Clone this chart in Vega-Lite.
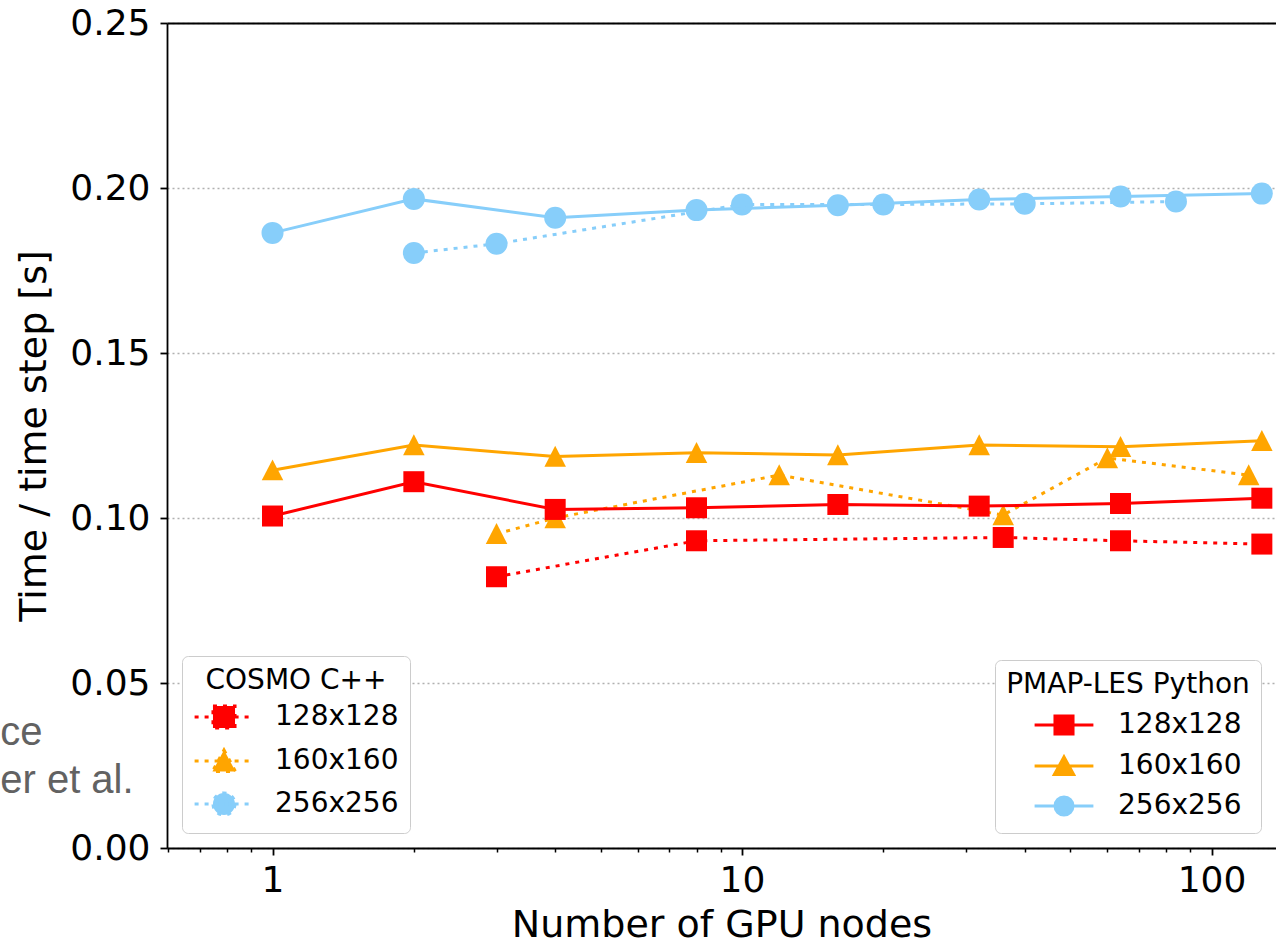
{
  "$schema": "https://vega.github.io/schema/vega-lite/v6.json",
  "width": 1109,
  "height": 825,
  "autosize": {"type": "none"},
  "padding": {"left": 167, "top": 23, "right": 0, "bottom": 96},
  "background": "white",
  "config": {
    "view": {"stroke": null},
    "font": "DejaVu Sans",
    "axis": {
      "labelFont": "DejaVu Sans",
      "titleFont": "DejaVu Sans",
      "labelColor": "black",
      "titleColor": "black",
      "domainColor": "black",
      "tickColor": "black",
      "titleFontWeight": "normal"
    },
    "legend": {
      "labelFont": "DejaVu Sans",
      "titleFont": "DejaVu Sans",
      "labelColor": "black",
      "titleColor": "black",
      "titleFontWeight": "normal",
      "titleLimit": 0,
      "labelLimit": 0
    }
  },
  "datasets": {
    "runs": [
      {"code": "COSMO C++", "size": "128x128", "nodes": 3, "time": 0.0822},
      {"code": "COSMO C++", "size": "128x128", "nodes": 8, "time": 0.0931},
      {"code": "COSMO C++", "size": "128x128", "nodes": 36, "time": 0.0941},
      {"code": "COSMO C++", "size": "128x128", "nodes": 64, "time": 0.0931},
      {"code": "COSMO C++", "size": "128x128", "nodes": 128, "time": 0.0921},
      {"code": "COSMO C++", "size": "160x160", "nodes": 3, "time": 0.0952},
      {"code": "COSMO C++", "size": "160x160", "nodes": 4, "time": 0.1000},
      {"code": "COSMO C++", "size": "160x160", "nodes": 12, "time": 0.1130},
      {"code": "COSMO C++", "size": "160x160", "nodes": 36, "time": 0.1009},
      {"code": "COSMO C++", "size": "160x160", "nodes": 60, "time": 0.1182},
      {"code": "COSMO C++", "size": "160x160", "nodes": 120, "time": 0.1130},
      {"code": "COSMO C++", "size": "256x256", "nodes": 2, "time": 0.1803},
      {"code": "COSMO C++", "size": "256x256", "nodes": 3, "time": 0.1831},
      {"code": "COSMO C++", "size": "256x256", "nodes": 10, "time": 0.1950},
      {"code": "COSMO C++", "size": "256x256", "nodes": 20, "time": 0.1950},
      {"code": "COSMO C++", "size": "256x256", "nodes": 40, "time": 0.1952},
      {"code": "COSMO C++", "size": "256x256", "nodes": 84, "time": 0.1959},
      {"code": "PMAP-LES Python", "size": "128x128", "nodes": 1, "time": 0.1006},
      {"code": "PMAP-LES Python", "size": "128x128", "nodes": 2, "time": 0.1110},
      {"code": "PMAP-LES Python", "size": "128x128", "nodes": 4, "time": 0.1026},
      {"code": "PMAP-LES Python", "size": "128x128", "nodes": 8, "time": 0.1031},
      {"code": "PMAP-LES Python", "size": "128x128", "nodes": 16, "time": 0.1041},
      {"code": "PMAP-LES Python", "size": "128x128", "nodes": 32, "time": 0.1036},
      {"code": "PMAP-LES Python", "size": "128x128", "nodes": 64, "time": 0.1044},
      {"code": "PMAP-LES Python", "size": "128x128", "nodes": 128, "time": 0.1060},
      {"code": "PMAP-LES Python", "size": "160x160", "nodes": 1, "time": 0.1145},
      {"code": "PMAP-LES Python", "size": "160x160", "nodes": 2, "time": 0.1221},
      {"code": "PMAP-LES Python", "size": "160x160", "nodes": 4, "time": 0.1186},
      {"code": "PMAP-LES Python", "size": "160x160", "nodes": 8, "time": 0.1198},
      {"code": "PMAP-LES Python", "size": "160x160", "nodes": 16, "time": 0.1191},
      {"code": "PMAP-LES Python", "size": "160x160", "nodes": 32, "time": 0.1221},
      {"code": "PMAP-LES Python", "size": "160x160", "nodes": 64, "time": 0.1216},
      {"code": "PMAP-LES Python", "size": "160x160", "nodes": 128, "time": 0.1234},
      {"code": "PMAP-LES Python", "size": "256x256", "nodes": 1, "time": 0.1864},
      {"code": "PMAP-LES Python", "size": "256x256", "nodes": 2, "time": 0.1967},
      {"code": "PMAP-LES Python", "size": "256x256", "nodes": 4, "time": 0.1910},
      {"code": "PMAP-LES Python", "size": "256x256", "nodes": 8, "time": 0.1933},
      {"code": "PMAP-LES Python", "size": "256x256", "nodes": 16, "time": 0.1948},
      {"code": "PMAP-LES Python", "size": "256x256", "nodes": 32, "time": 0.1965},
      {"code": "PMAP-LES Python", "size": "256x256", "nodes": 64, "time": 0.1974},
      {"code": "PMAP-LES Python", "size": "256x256", "nodes": 128, "time": 0.1983}
    ],
    "notes": [
      {"label": "ce", "nodes": 0.3236, "time": 0.0312},
      {"label": "er et al.", "nodes": 0.506, "time": 0.0167}
    ]
  },
  "resolve": {
    "scale": {"color": "independent", "fill": "independent", "stroke": "independent", "shape": "independent", "size": "independent"},
    "axis": {"x": "independent", "y": "independent"}
  },
  "layer": [
    {
      "data": {"name": "runs"},
      "transform": [{"filter": "datum.code === 'COSMO C++'"}],
      "mark": {"type": "line", "strokeWidth": 3, "strokeDash": [4, 6], "clip": false},
      "encoding": {
        "x": {
          "field": "nodes", "type": "quantitative",
          "scale": {"type": "log", "domain": [0.596, 137.2], "nice": false},
          "axis": {
            "orient": "bottom", "values": [1, 10, 100], "format": "~g",
            "labelFontSize": 36, "labelPadding": 8, "labelFlush": false,
            "tickSize": 7, "tickWidth": 1.8, "domainWidth": 1.8, "grid": false,
            "title": "Number of GPU nodes", "titleFontSize": 38, "titlePadding": 8
          }
        },
        "y": {
          "field": "time", "type": "quantitative",
          "scale": {"domain": [0, 0.25], "nice": false, "zero": true},
          "axis": {
            "orient": "left",
            "values": [0, 0.05, 0.1, 0.15, 0.2, 0.25], "format": ".2f",
            "labelFontSize": 36, "labelPadding": 10,
            "tickSize": 7, "tickWidth": 1.8, "domainWidth": 1.8,
            "grid": true, "gridColor": "#b0b0b0", "gridDash": [2, 3], "gridWidth": 1.5,
            "title": "Time / time step [s]", "titleFontSize": 38, "titlePadding": 16
          }
        },
        "color": {
          "field": "size", "type": "nominal",
          "scale": {"domain": ["128x128", "160x160", "256x256"], "range": ["#ff0000", "#ffa500", "#87cefa"]},
          "legend": null
        }
      }
    },
    {
      "data": {"name": "runs"},
      "transform": [{"filter": "datum.code === 'COSMO C++'"}],
      "mark": {"type": "point", "filled": true, "opacity": 1, "strokeWidth": 0},
      "encoding": {
        "x": {
          "field": "nodes", "type": "quantitative",
          "axis": {
            "orient": "bottom",
            "values": [0.6, 0.7, 0.8, 0.9, 2, 3, 4, 5, 6, 7, 8, 9, 20, 30, 40, 50, 60, 70, 80, 90],
            "labels": false, "tickSize": 4, "tickWidth": 1.5, "domain": false, "grid": false, "title": null
          }
        },
        "y": {"field": "time", "type": "quantitative", "axis": null},
        "shape": {
          "field": "size", "type": "nominal",
          "scale": {"domain": ["128x128", "160x160", "256x256"], "range": ["square", "M0,-1L1,0.95L-1,0.95Z", "circle"]},
          "legend": null
        },
        "size": {
          "field": "size", "type": "ordinal",
          "scale": {"domain": ["128x128", "160x160", "256x256"], "range": [441, 484, 441]},
          "legend": null
        },
        "color": {
          "field": "size", "type": "nominal",
          "scale": {"domain": ["128x128", "160x160", "256x256"], "range": ["#ff0000", "#ffa500", "#87cefa"]},
          "legend": null
        }
      }
    },
    {
      "data": {"name": "runs"},
      "transform": [{"filter": "datum.code === 'PMAP-LES Python'"}],
      "mark": {"type": "line", "strokeWidth": 3, "clip": false},
      "encoding": {
        "x": {
          "field": "nodes", "type": "quantitative",
          "axis": {
            "orient": "top", "values": [], "labels": false, "ticks": false,
            "domain": true, "domainWidth": 1.8, "grid": false, "title": null
          }
        },
        "y": {"field": "time", "type": "quantitative", "axis": null},
        "color": {
          "field": "size", "type": "nominal",
          "scale": {"domain": ["128x128", "160x160", "256x256"], "range": ["#ff0000", "#ffa500", "#87cefa"]},
          "legend": null
        }
      }
    },
    {
      "data": {"name": "runs"},
      "transform": [{"filter": "datum.code === 'PMAP-LES Python'"}],
      "mark": {"type": "point", "filled": true, "opacity": 1, "strokeWidth": 0},
      "encoding": {
        "x": {"field": "nodes", "type": "quantitative", "axis": null},
        "y": {"field": "time", "type": "quantitative", "axis": null},
        "shape": {
          "field": "size", "type": "nominal",
          "scale": {"domain": ["128x128", "160x160", "256x256"], "range": ["square", "M0,-1L1,0.95L-1,0.95Z", "circle"]},
          "legend": null
        },
        "size": {
          "field": "size", "type": "ordinal",
          "scale": {"domain": ["128x128", "160x160", "256x256"], "range": [441, 484, 441]},
          "legend": null
        },
        "color": {
          "field": "size", "type": "nominal",
          "scale": {"domain": ["128x128", "160x160", "256x256"], "range": ["#ff0000", "#ffa500", "#87cefa"]},
          "legend": null
        }
      }
    },
    {
      "data": {"name": "runs"},
      "transform": [{"filter": "datum.code === 'COSMO C++'"}],
      "mark": {"type": "point", "opacity": 0, "strokeWidth": 3},
      "encoding": {
        "x": {"field": "nodes", "type": "quantitative", "axis": null},
        "y": {"field": "time", "type": "quantitative", "axis": null},
        "fill": {
          "field": "size", "type": "nominal",
          "scale": {"domain": ["128x128", "160x160", "256x256"], "range": ["#ff0000", "#ffa500", "#87cefa"]},
          "legend": {
            "title": "COSMO C++", "orient": "bottom-left", "offset": 15,
            "titleAnchor": "middle", "titleAlign": "center",
            "titleFontSize": 28, "labelFontSize": 28,
            "fillColor": "white", "strokeColor": "#cccccc", "cornerRadius": 6, "padding": 11,
            "symbolSize": 441, "symbolStrokeWidth": 3, "symbolDash": [4, 6], "symbolOpacity": 1,
            "symbolOffset": 17, "labelOffset": 37, "rowPadding": 8, "titlePadding": 8
          }
        },
        "stroke": {
          "field": "size", "type": "nominal",
          "scale": {"domain": ["128x128", "160x160", "256x256"], "range": ["#ff0000", "#ffa500", "#87cefa"]},
          "legend": {
            "title": "COSMO C++", "orient": "bottom-left", "offset": 15,
            "titleAnchor": "middle", "titleAlign": "center",
            "titleFontSize": 28, "labelFontSize": 28,
            "fillColor": "white", "strokeColor": "#cccccc", "cornerRadius": 6, "padding": 11,
            "symbolSize": 441, "symbolStrokeWidth": 3, "symbolDash": [4, 6], "symbolOpacity": 1,
            "symbolOffset": 17, "labelOffset": 37, "rowPadding": 8, "titlePadding": 8
          }
        },
        "shape": {
          "field": "size", "type": "nominal",
          "scale": {
            "domain": ["128x128", "160x160", "256x256"],
            "range": ["M-2.8,0L2.8,0M-1.05,-1.05L1.05,-1.05L1.05,1.05L-1.05,1.05Z", "M-2.8,0L2.8,0M0,-1.05L1.1,1L-1.1,1Z", "M-2.8,0L2.8,0M1.05,0A1.05,1.05,0,1,1,-1.05,0A1.05,1.05,0,1,1,1.05,0Z"]
          },
          "legend": {
            "title": "COSMO C++", "orient": "bottom-left", "offset": 15,
            "titleAnchor": "middle", "titleAlign": "center",
            "titleFontSize": 28, "labelFontSize": 28,
            "fillColor": "white", "strokeColor": "#cccccc", "cornerRadius": 6, "padding": 11,
            "symbolSize": 441, "symbolStrokeWidth": 3, "symbolDash": [4, 6], "symbolOpacity": 1,
            "symbolOffset": 17, "labelOffset": 37, "rowPadding": 8, "titlePadding": 8
          }
        }
      }
    },
    {
      "data": {"name": "runs"},
      "transform": [{"filter": "datum.code === 'PMAP-LES Python'"}],
      "mark": {"type": "point", "opacity": 0, "strokeWidth": 3},
      "encoding": {
        "x": {"field": "nodes", "type": "quantitative", "axis": null},
        "y": {"field": "time", "type": "quantitative", "axis": null},
        "fill": {
          "field": "size", "type": "nominal",
          "scale": {"domain": ["128x128", "160x160", "256x256"], "range": ["#ff0000", "#ffa500", "#87cefa"]},
          "legend": {
            "title": "PMAP-LES Python", "orient": "bottom-right", "offset": 15,
            "titleAnchor": "middle", "titleAlign": "center",
            "titleFontSize": 28, "labelFontSize": 28,
            "fillColor": "white", "strokeColor": "#cccccc", "cornerRadius": 6, "padding": 11,
            "symbolSize": 441, "symbolStrokeWidth": 3, "symbolOpacity": 1,
            "symbolOffset": 36, "labelOffset": 40, "rowPadding": 9, "titlePadding": 12
          }
        },
        "stroke": {
          "field": "size", "type": "nominal",
          "scale": {"domain": ["128x128", "160x160", "256x256"], "range": ["#ff0000", "#ffa500", "#87cefa"]},
          "legend": {
            "title": "PMAP-LES Python", "orient": "bottom-right", "offset": 15,
            "titleAnchor": "middle", "titleAlign": "center",
            "titleFontSize": 28, "labelFontSize": 28,
            "fillColor": "white", "strokeColor": "#cccccc", "cornerRadius": 6, "padding": 11,
            "symbolSize": 441, "symbolStrokeWidth": 3, "symbolOpacity": 1,
            "symbolOffset": 36, "labelOffset": 40, "rowPadding": 9, "titlePadding": 12
          }
        },
        "shape": {
          "field": "size", "type": "nominal",
          "scale": {
            "domain": ["128x128", "160x160", "256x256"],
            "range": ["M-2.8,0L2.8,0M-0.86,-0.86L0.86,-0.86L0.86,0.86L-0.86,0.86Z", "M-2.8,0L2.8,0M0,-0.86L0.92,0.82L-0.92,0.82Z", "M-2.8,0L2.8,0M0.86,0A0.86,0.86,0,1,1,-0.86,0A0.86,0.86,0,1,1,0.86,0Z"]
          },
          "legend": {
            "title": "PMAP-LES Python", "orient": "bottom-right", "offset": 15,
            "titleAnchor": "middle", "titleAlign": "center",
            "titleFontSize": 28, "labelFontSize": 28,
            "fillColor": "white", "strokeColor": "#cccccc", "cornerRadius": 6, "padding": 11,
            "symbolSize": 441, "symbolStrokeWidth": 3, "symbolOpacity": 1,
            "symbolOffset": 36, "labelOffset": 40, "rowPadding": 9, "titlePadding": 12
          }
        }
      }
    },
    {
      "data": {"name": "notes"},
      "mark": {"type": "text", "align": "right", "baseline": "alphabetic", "font": "Liberation Sans", "fontSize": 40, "color": "#626262", "clip": false},
      "encoding": {
        "x": {"field": "nodes", "type": "quantitative", "axis": null},
        "y": {"field": "time", "type": "quantitative", "axis": null},
        "text": {"field": "label"}
      }
    }
  ]
}
